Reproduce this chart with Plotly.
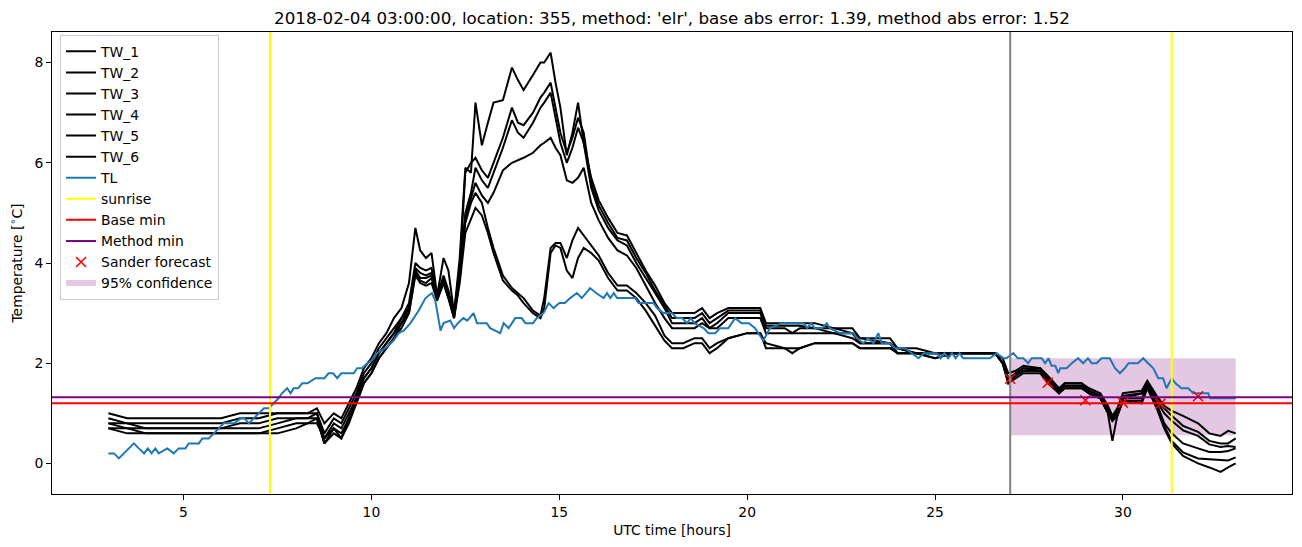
import plotly.graph_objects as go

# ---------------- data ----------------
title_text = "2018-02-04 03:00:00, location: 355, method: 'elr', base abs error: 1.39, method abs error: 1.52"

tl_hours = [3.0,3.15,3.28,3.41,3.55,3.68,3.81,3.95,4.05,4.15,4.25,4.34,4.57,4.74,4.87,5.05,5.14,5.41,5.5,5.67,
            5.81,5.94,6.07,6.35,6.52,6.62,6.74,6.87,7.0,7.14,7.27,7.4,7.53,7.62,7.76,7.85,7.93,8.05,8.16,8.3,
            8.51,8.75,8.86,8.98,9.09,9.2,9.53,9.62,9.75,9.89,10.0,10.15,10.37,10.59,10.73,10.86,11.04,11.26,11.44,11.61,
            11.7,11.84,11.92,12.1,12.2,12.3,12.45,12.55,12.72,12.81,13.07,13.16,13.43,13.52,13.65,13.83,14.0,14.1,14.3,14.4,
            14.58,14.72,14.85,15.0,15.15,15.29,15.47,15.6,15.82,15.98,16.18,16.27,16.36,16.45,16.54,17.02,17.11,17.51,17.6,17.77,
            18.0,18.13,18.27,18.4,18.5,18.6,18.84,18.97,19.15,19.28,19.5,19.68,19.85,20.05,20.21,20.43,20.61,20.92,21.5,21.6,
            21.7,21.8,22.0,22.12,22.2,22.47,22.83,22.92,23.09,23.22,23.36,23.49,23.58,23.8,23.93,24.2,24.38,24.56,24.7,25.05,
            25.15,25.25,25.35,25.45,25.55,25.65,25.75,26.46,26.64,26.82,26.9,27.08,27.2,27.35,27.48,27.57,27.84,27.93,28.02,28.1,
            28.2,28.28,28.33,28.5,28.64,28.81,28.94,29.07,29.17,29.3,29.43,29.65,29.79,29.92,30.05,30.15,30.4,30.54,30.67,30.81,
            30.94,31.07,31.16,31.3,31.4,31.56,31.74,31.87,32.27,32.32,33.0]
tl_temp = [0.2,0.2,0.1,0.2,0.3,0.4,0.3,0.2,0.3,0.2,0.3,0.2,0.3,0.2,0.3,0.3,0.4,0.4,0.5,0.5,
           0.6,0.7,0.8,0.8,0.9,0.9,0.8,0.9,1.0,1.1,1.1,1.2,1.3,1.4,1.5,1.4,1.5,1.5,1.6,1.6,
           1.7,1.7,1.8,1.8,1.7,1.8,1.8,1.9,1.9,2.0,2.05,2.2,2.3,2.45,2.6,2.65,2.8,3.05,3.3,3.4,
           3.25,2.65,2.8,2.85,2.7,2.8,2.9,2.85,3.0,2.8,2.8,2.7,2.6,2.8,2.7,2.9,2.9,2.8,2.8,2.9,
           3.0,3.2,3.1,3.2,3.2,3.3,3.4,3.3,3.5,3.4,3.3,3.4,3.3,3.4,3.3,3.3,3.2,3.2,3.1,3.0,
           3.0,2.9,2.9,2.8,2.9,2.8,2.7,2.6,2.6,2.7,2.7,2.9,2.8,2.8,2.7,2.45,2.7,2.8,2.8,2.7,
           2.8,2.7,2.7,2.8,2.7,2.6,2.6,2.5,2.4,2.5,2.4,2.6,2.4,2.4,2.3,2.3,2.2,2.1,2.2,2.2,
           2.1,2.2,2.1,2.2,2.1,2.2,2.1,2.1,2.2,2.1,2.1,2.2,2.1,2.1,2.0,2.1,2.1,2.0,2.1,1.95,
           1.95,1.8,1.9,1.9,2.0,2.1,2.0,2.1,2.0,2.0,2.1,2.1,1.9,1.8,1.9,2.0,2.0,2.1,2.0,1.9,
           1.7,1.7,1.5,1.7,1.6,1.5,1.5,1.4,1.4,1.3,1.3]

tw_hours = [3.0,3.5,4.0,4.5,5.0,5.5,6.0,6.5,7.0,7.5,8.0,8.3,8.55,8.75,9.0,9.2,9.4,9.6,9.8,
            10.0,10.2,10.4,10.6,10.8,11.0,11.17,11.3,11.45,11.6,11.75,11.92,12.05,12.2,12.35,
            12.5,12.65,12.77,12.94,13.1,13.25,13.5,13.74,13.9,14.05,14.3,14.5,14.6,14.77,14.9,15.03,15.2,
            15.35,15.5,15.65,15.85,16.05,16.3,16.55,16.8,17.05,17.3,17.55,17.8,18.0,18.3,
            18.6,18.8,19.0,19.2,19.5,20.0,20.35,20.5,21.0,21.2,21.4,21.8,22.3,22.8,23.0,23.8,24.0,24.5,25.0,25.5,26.0,26.6,26.8,26.95,
            27.15,27.35,27.8,28.0,28.3,28.45,28.9,29.1,29.4,29.6,29.72,29.85,30.0,30.5,30.65,30.9,31.1,31.3,31.6,32.0,32.3,32.6,32.8,33.0]

tw_1 = [1.0,0.9,0.9,0.9,0.9,0.9,0.9,1.0,1.0,1.0,1.0,1.0,1.1,0.8,1.0,0.9,1.2,1.5,1.9,
        2.1,2.4,2.6,2.9,3.1,3.6,4.7,4.25,4.1,4.2,3.35,4.1,3.85,3.0,4.1,
        5.9,5.8,7.2,6.35,6.8,7.2,7.25,7.9,7.65,7.45,7.75,8.0,8.0,8.2,7.6,7.1,6.15,
        6.6,7.2,6.4,5.7,5.25,4.9,4.6,4.55,4.2,3.85,3.55,3.2,3.0,3.0,
        3.0,3.1,2.9,3.0,3.1,3.1,3.1,2.8,2.8,2.8,2.8,2.8,2.7,2.7,2.5,2.5,2.3,2.3,2.2,2.2,2.2,2.2,2.1,1.8,
        1.85,1.95,1.9,1.75,1.5,1.6,1.6,1.5,1.4,1.15,0.95,1.1,1.4,1.45,1.65,1.35,1.15,1.05,0.95,0.8,0.6,0.55,0.65,0.6]
tw_2 = [0.9,0.8,0.8,0.8,0.8,0.8,0.8,0.9,0.9,1.0,1.0,1.0,1.0,0.6,0.9,0.8,1.1,1.4,1.8,
        2.0,2.3,2.5,2.7,2.9,3.2,4.0,3.9,3.85,3.9,3.35,3.75,3.45,3.0,3.9,
        5.8,6.0,6.1,5.85,5.7,6.0,6.5,7.1,6.8,6.75,7.0,7.3,7.4,7.6,7.1,6.6,6.2,
        6.5,6.9,6.6,5.6,5.15,4.8,4.5,4.45,4.1,3.8,3.45,3.15,2.9,2.9,
        2.9,3.0,2.8,2.9,3.05,3.05,3.05,2.75,2.75,2.75,2.75,2.7,2.7,2.6,2.5,2.4,2.3,2.2,2.2,2.2,2.2,2.2,2.0,1.7,
        1.8,1.9,1.9,1.7,1.45,1.6,1.6,1.45,1.35,1.1,0.9,1.05,1.35,1.4,1.6,1.3,1.1,0.95,0.75,0.63,0.45,0.4,0.4,0.5]
tw_3 = [0.8,0.8,0.7,0.7,0.7,0.7,0.7,0.8,0.8,0.9,0.9,0.9,1.0,0.5,0.8,0.7,1.0,1.3,1.7,
        1.9,2.2,2.4,2.6,2.9,3.1,3.9,3.8,3.75,3.8,3.3,3.7,3.4,2.95,3.8,
        5.0,5.4,5.9,5.65,5.5,5.8,6.3,6.85,6.6,6.5,6.8,7.1,7.2,7.4,6.9,6.4,6.0,
        6.3,6.7,6.4,5.5,5.05,4.7,4.45,4.35,4.0,3.7,3.4,3.1,2.8,2.8,
        2.8,2.9,2.7,2.8,3.0,3.0,3.0,2.7,2.7,2.6,2.7,2.7,2.6,2.6,2.4,2.4,2.2,2.2,2.2,2.2,2.2,2.2,2.0,1.7,
        1.8,1.9,1.85,1.7,1.45,1.55,1.55,1.45,1.35,1.05,0.9,1.0,1.3,1.4,1.6,1.25,1.0,0.85,0.66,0.55,0.38,0.33,0.35,0.33]
tw_4 = [0.8,0.7,0.7,0.7,0.7,0.7,0.7,0.7,0.7,0.8,0.9,0.9,0.9,0.4,0.7,0.6,0.9,1.3,1.7,
        1.9,2.2,2.4,2.6,2.8,3.1,3.85,3.7,3.7,3.75,3.3,3.65,3.35,2.95,3.8,
        4.9,5.3,5.6,5.35,5.2,5.4,5.85,6.0,6.05,6.1,6.2,6.35,6.4,6.5,6.3,6.15,5.65,
        5.6,5.7,5.9,5.2,4.85,4.5,4.25,4.15,3.9,3.55,3.2,2.9,2.7,2.7,
        2.7,2.8,2.7,2.7,2.9,2.9,2.9,2.6,2.6,2.6,2.6,2.6,2.6,2.5,2.4,2.4,2.2,2.2,2.1,2.2,2.2,2.2,2.0,1.6,
        1.75,1.85,1.85,1.65,1.4,1.55,1.55,1.4,1.3,1.0,0.85,1.0,1.3,1.3,1.55,1.2,0.8,0.6,0.4,0.3,0.23,0.23,0.25,0.3]
tw_5 = [0.7,0.7,0.6,0.6,0.6,0.6,0.6,0.6,0.6,0.7,0.8,0.8,0.9,0.4,0.6,0.5,0.9,1.2,1.6,
        1.8,2.1,2.3,2.5,2.8,3.0,3.8,3.65,3.6,3.7,3.3,3.6,3.3,2.9,3.7,
        4.8,5.2,5.4,5.2,4.7,4.3,3.75,3.5,3.4,3.3,3.05,2.95,3.3,4.3,4.4,4.4,4.1,
        4.45,4.7,4.55,4.35,4.15,3.8,3.55,3.55,3.4,3.2,2.95,2.55,2.4,2.4,
        2.5,2.5,2.3,2.4,2.5,2.6,2.6,2.4,2.3,2.3,2.3,2.4,2.4,2.4,2.3,2.3,2.3,2.2,2.2,2.2,2.2,2.2,2.0,1.7,
        1.75,1.85,1.85,1.65,1.4,1.5,1.5,1.4,1.3,1.0,0.85,0.95,1.25,1.25,1.55,1.15,0.75,0.45,0.22,0.1,0.08,0.06,0.06,0.12]
tw_6 = [0.7,0.6,0.6,0.6,0.6,0.6,0.6,0.6,0.6,0.6,0.7,0.8,0.8,0.5,0.7,0.5,0.8,1.2,1.6,
        1.8,2.1,2.3,2.5,2.7,3.0,3.75,3.6,3.55,3.6,3.25,3.6,3.3,2.9,3.6,
        4.6,4.9,5.1,4.95,4.6,4.2,3.65,3.45,3.35,3.2,3.0,2.9,3.1,4.2,4.35,4.3,3.85,
        3.7,4.1,4.3,4.2,4.05,3.7,3.45,3.45,3.3,3.05,2.75,2.45,2.3,2.3,
        2.4,2.4,2.2,2.3,2.5,2.6,2.6,2.3,2.3,2.2,2.3,2.4,2.4,2.4,2.3,2.3,2.2,2.2,2.1,2.2,2.2,2.2,2.0,1.6,
        1.7,1.8,1.8,1.6,1.4,1.5,1.5,1.4,1.3,1.0,0.45,0.95,1.25,1.2,1.5,1.1,0.7,0.4,0.15,0.0,-0.08,-0.17,-0.08,0.0]

tw_names = ["TW_1", "TW_2", "TW_3", "TW_4", "TW_5", "TW_6"]

sunrise_hours = [7.3, 31.3]
forecast_start = 27.0
base_min = 1.2
method_min = 1.32

sander_hours = [27, 28, 29, 30, 31, 32]
sander_temp = [1.69, 1.61, 1.26, 1.21, 1.19, 1.34]

conf_start, conf_end = 27.0, 33.0
conf_low, conf_high = 0.56, 2.1

x_range = [1.5, 34.5]
y_range = [-0.61, 8.61]
x_ticks = [5, 10, 15, 20, 25, 30]
y_ticks = [0, 2, 4, 6, 8]

# ---------------- figure ----------------
FONT = "DejaVu Sans"
fig = go.Figure()

# confidence band (behind lines)
fig.add_trace(go.Scatter(
    x=[conf_start, conf_end, conf_end, conf_start, conf_start],
    y=[conf_low, conf_low, conf_high, conf_high, conf_low],
    fill="toself", mode="none", fillcolor="rgba(128,0,128,0.22)",
    name="95% confidence", showlegend=False, hoverinfo="skip"))

for name, vals in zip(tw_names, [tw_1, tw_2, tw_3, tw_4, tw_5, tw_6]):
    fig.add_trace(go.Scatter(x=tw_hours, y=vals, mode="lines", name=name,
                             line=dict(color="black", width=2)))

fig.add_trace(go.Scatter(x=tl_hours, y=tl_temp, mode="lines", name="TL",
                         line=dict(color="#1f77b4", width=2)))

# reference lines
for sr in sunrise_hours:
    fig.add_vline(x=sr, line=dict(color="yellow", width=2))
fig.add_vline(x=forecast_start, line=dict(color="grey", width=2))
fig.add_hline(y=base_min, line=dict(color="red", width=2))
fig.add_hline(y=method_min, line=dict(color="purple", width=2))

# legend entries for the reference lines
fig.add_trace(go.Scatter(x=[None], y=[None], mode="lines", name="sunrise",
                         line=dict(color="yellow", width=2)))
fig.add_trace(go.Scatter(x=[None], y=[None], mode="lines", name="Base min",
                         line=dict(color="red", width=2)))
fig.add_trace(go.Scatter(x=[None], y=[None], mode="lines", name="Method min",
                         line=dict(color="purple", width=2)))

fig.add_trace(go.Scatter(x=sander_hours, y=sander_temp, mode="markers", name="Sander forecast",
                         marker=dict(symbol="x-thin", size=10, color="red",
                                     line=dict(color="red", width=1.6))))

# legend entry for confidence
fig.add_trace(go.Scatter(x=[None], y=[None], mode="none", fill="toself",
                         fillcolor="rgba(128,0,128,0.22)", name="95% confidence"))

axis_common = dict(showgrid=False, zeroline=False, showline=True, linecolor="black",
                   linewidth=1, mirror=True, ticks="outside", ticklen=5, tickwidth=1,
                   tickcolor="black", tickfont=dict(family=FONT, size=13.9, color="black"))

fig.update_layout(
    width=1302, height=547,
    margin=dict(l=52, r=10, t=32, b=53),
    paper_bgcolor="white", plot_bgcolor="white",
    font=dict(family=FONT, color="black"),
    title=dict(text=title_text, x=0.5, xref="paper", y=1 - 18 / 547, yref="container",
               yanchor="middle", font=dict(family=FONT, size=16.7, color="black")),
    xaxis=dict(range=x_range, tickvals=x_ticks,
               title=dict(text="UTC time [hours]", font=dict(family=FONT, size=13.9), standoff=6),
               **axis_common),
    yaxis=dict(range=y_range, tickvals=y_ticks,
               title=dict(text="Temperature [<sup>∘</sup>C]", font=dict(family=FONT, size=13.9), standoff=8),
               **axis_common),
    legend=dict(x=0.0065, y=0.994, xanchor="left", yanchor="top",
                bgcolor="rgba(255,255,255,0.8)", bordercolor="#cccccc", borderwidth=1,
                font=dict(family=FONT, size=13.9, color="black"), tracegroupgap=0,
                itemwidth=30),
    showlegend=True,
)

fig.write_html("out.html")
